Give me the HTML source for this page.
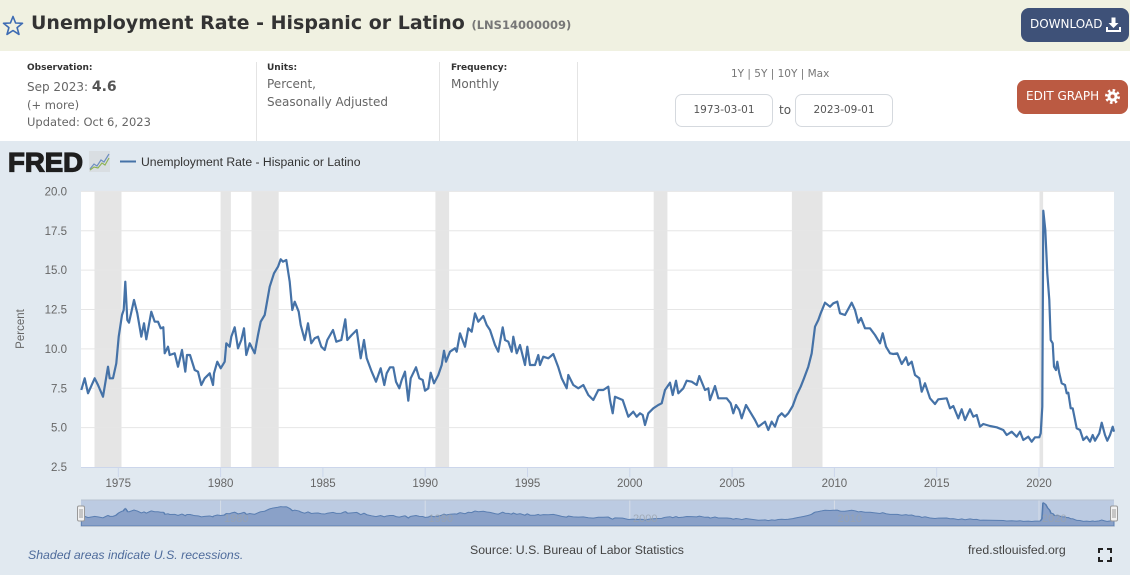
<!DOCTYPE html>
<html>
<head>
<meta charset="utf-8">
<style>
  html,body{margin:0;padding:0;}
  body{width:1130px;height:575px;position:relative;overflow:hidden;background:#ffffff;font-family:"DejaVu Sans","Liberation Sans",sans-serif;}
  .abs{position:absolute;white-space:nowrap;}
  #hdr{position:absolute;left:0;top:0;width:1130px;height:51px;background:#f0f1e1;}
  #title{left:31px;top:12px;font-size:19px;font-weight:bold;color:#333;}
  #title .sid{font-size:11.5px;color:#777;font-weight:bold;}
  .btn{position:absolute;color:#fff;font-size:12px;border-radius:8px;box-sizing:border-box;}
  #dl{left:1021px;top:8px;width:108px;height:34px;background:#3e5178;}
  #eg{left:1017px;top:80px;width:111px;height:34px;background:#bb5a42;}
  .lbl{font-size:9px;font-weight:bold;color:#333;}
  .val{font-size:12px;color:#666;}
  .sep{position:absolute;width:1px;background:#e4e4e4;top:62px;height:79px;}
  .inp{position:absolute;top:94px;height:33px;width:98px;border:1px solid #d5d9de;border-radius:7px;box-sizing:border-box;font-size:10.5px;color:#555;text-align:center;line-height:31px;background:#fff;}
  #chartbg{position:absolute;left:0;top:141px;width:1130px;height:434px;background:#e1e9f0;}
</style>
</head>
<body>
<div id="hdr"></div>
<svg class="abs" style="left:2px;top:15px" width="22" height="22" viewBox="0 0 22 22">
  <polygon points="11,1.5 13.6,8 20.5,8.3 15.1,12.6 17,19.4 11,15.5 5,19.4 6.9,12.6 1.5,8.3 8.4,8" fill="none" stroke="#3d6bb3" stroke-width="1.6" stroke-linejoin="round"/>
</svg>
<div id="title" class="abs">Unemployment Rate - Hispanic or Latino <span class="sid">(LNS14000009)</span></div>

<div id="dl" class="btn"><span class="abs" style="left:9px;top:9px">DOWNLOAD</span>
  <svg class="abs" style="left:85px;top:9px" width="15" height="15" viewBox="0 0 15 15">
    <rect x="5.5" y="0.5" width="4" height="6" fill="#fff"/>
    <polygon points="2.5,6 12.5,6 7.5,11" fill="#fff"/>
    <path d="M1 10 V14 H14 V10" fill="none" stroke="#fff" stroke-width="2"/>
  </svg>
</div>

<div class="abs lbl" style="left:27px;top:63px">Observation:</div>
<div class="abs val" style="left:27px;top:79px">Sep 2023: <b style="font-size:14px;color:#555">4.6</b></div>
<div class="abs val" style="left:27px;top:98px;font-size:11.5px">(+ more)</div>
<div class="abs val" style="left:27px;top:115px;font-size:11.5px">Updated: Oct 6, 2023</div>
<div class="sep" style="left:256px"></div>
<div class="abs lbl" style="left:267px;top:63px">Units:</div>
<div class="abs val" style="left:267px;top:77px">Percent,</div>
<div class="abs val" style="left:267px;top:95px">Seasonally Adjusted</div>
<div class="sep" style="left:439px"></div>
<div class="abs lbl" style="left:451px;top:63px">Frequency:</div>
<div class="abs val" style="left:451px;top:77px">Monthly</div>
<div class="sep" style="left:577px"></div>

<div class="abs" style="left:731px;top:68px;font-size:10.5px;color:#777">1Y | 5Y | 10Y | Max</div>
<div class="inp" style="left:675px">1973-03-01</div>
<div class="abs" style="left:779px;top:103px;font-size:12px;color:#555">to</div>
<div class="inp" style="left:795px">2023-09-01</div>

<div id="eg" class="btn"><span class="abs" style="left:9px;top:9px">EDIT GRAPH</span>
  <svg class="abs" style="left:88px;top:9px" width="15" height="15" viewBox="0 0 15 15">
    <circle cx="7.5" cy="7.5" r="5" fill="#fff"/>
    <circle cx="7.5" cy="7.5" r="6" fill="none" stroke="#fff" stroke-width="3" stroke-dasharray="2.4 2.3"/>
    <circle cx="7.5" cy="7.5" r="2" fill="#bb5a42"/>
  </svg>
</div>

<div id="chartbg"></div>

<svg class="abs" style="left:0;top:0" width="1130" height="575" viewBox="0 0 1130 575">
  <!-- FRED logo -->
  <text x="8" y="171.5" font-family="Liberation Sans, sans-serif" font-weight="bold" font-size="26.5" fill="#1e1e1e" stroke="#1e1e1e" stroke-width="1.2" textLength="75" lengthAdjust="spacingAndGlyphs">FRED</text>
  <rect x="89" y="151" width="21" height="21" fill="#d9dee2"/>
  <polyline points="90,169 94,164 97,166 101,160 104,162 109,154" fill="none" stroke="#6f8fbf" stroke-width="1.2"/>
  <polyline points="90,170 94,167 98,168 102,163 105,165 109,158" fill="none" stroke="#8fb356" stroke-width="1.2"/>
  <!-- legend -->
  <line x1="120" y1="161.5" x2="136" y2="161.5" stroke="#4572a7" stroke-width="2"/>
  <text x="141" y="166" font-family="Liberation Sans, sans-serif" font-size="12.2" fill="#333">Unemployment Rate - Hispanic or Latino</text>

  <!-- plot bg -->
  <rect x="81" y="191" width="1033" height="276" fill="#ffffff"/>
  <!-- recessions -->
  <g fill="#e5e5e5">
    <rect x="94.5" y="191" width="27" height="276"/>
    <rect x="220.6" y="191" width="10.3" height="276"/>
    <rect x="251.5" y="191" width="27.2" height="276"/>
    <rect x="435.4" y="191" width="13.7" height="276"/>
    <rect x="653.7" y="191" width="13.7" height="276"/>
    <rect x="791.9" y="191" width="30.6" height="276"/>
    <rect x="1039.5" y="191" width="3.6" height="276"/>
  </g>
  <!-- gridlines -->
  <g stroke="#e6e6e6" stroke-width="1">
    <line x1="81" x2="1114" y1="191.4" y2="191.4"/>
    <line x1="81" x2="1114" y1="230.75" y2="230.75"/>
    <line x1="81" x2="1114" y1="270.1" y2="270.1"/>
    <line x1="81" x2="1114" y1="309.5" y2="309.5"/>
    <line x1="81" x2="1114" y1="348.9" y2="348.9"/>
    <line x1="81" x2="1114" y1="388.25" y2="388.25"/>
    <line x1="81" x2="1114" y1="427.6" y2="427.6"/>
  </g>
  <line x1="81" x2="1114" y1="467.5" y2="467.5" stroke="#ccd6eb" stroke-width="1"/>
  <g stroke="#ccd6eb" stroke-width="1">
    <line x1="118.3" x2="118.3" y1="467" y2="477"/>
    <line x1="220.6" x2="220.6" y1="467" y2="477"/>
    <line x1="322.9" x2="322.9" y1="467" y2="477"/>
    <line x1="425.2" x2="425.2" y1="467" y2="477"/>
    <line x1="527.5" x2="527.5" y1="467" y2="477"/>
    <line x1="629.8" x2="629.8" y1="467" y2="477"/>
    <line x1="732.1" x2="732.1" y1="467" y2="477"/>
    <line x1="834.4" x2="834.4" y1="467" y2="477"/>
    <line x1="936.7" x2="936.7" y1="467" y2="477"/>
    <line x1="1039" x2="1039" y1="467" y2="477"/>
  </g>
  <!-- y labels -->
  <g font-family="Liberation Sans, sans-serif" font-size="11.5" fill="#666" text-anchor="end">
    <text x="67" y="195.4">20.0</text>
    <text x="67" y="234.8">17.5</text>
    <text x="67" y="274.1">15.0</text>
    <text x="67" y="313.5">12.5</text>
    <text x="67" y="352.9">10.0</text>
    <text x="67" y="392.3">7.5</text>
    <text x="67" y="431.6">5.0</text>
    <text x="67" y="471">2.5</text>
  </g>
  <text transform="translate(24,329) rotate(-90)" font-family="Liberation Sans, sans-serif" font-size="11.5" fill="#666" text-anchor="middle">Percent</text>
  <!-- x labels -->
  <g font-family="Liberation Sans, sans-serif" font-size="11.5" fill="#666" text-anchor="middle">
    <text x="118.3" y="487">1975</text>
    <text x="220.6" y="487">1980</text>
    <text x="322.9" y="487">1985</text>
    <text x="425.2" y="487">1990</text>
    <text x="527.5" y="487">1995</text>
    <text x="629.8" y="487">2000</text>
    <text x="732.1" y="487">2005</text>
    <text x="834.4" y="487">2010</text>
    <text x="936.7" y="487">2015</text>
    <text x="1039" y="487">2020</text>
  </g>

  <!-- series -->
  <polyline id="ser" fill="none" stroke="#4572a7" stroke-width="2.2" stroke-linejoin="round" points="81.3,390 84.7,378.3 88,393.3 94.7,378.3 98,385 103,396.7 108,366.7 109.7,378.3 113,378.3 116.3,363.3 118.7,336.7 122,315 123.7,310 125.3,281.7 127.3,320 129,322.7 134,300 137.3,313.3 141.3,336.7 144,323.3 146.3,339.3 151.3,311.7 154.7,321.7 158,321.7 160.7,328.3 163.3,327.3 164.7,353.3 168,346.7 169.7,355 174.7,353.3 178,366.7 182,350 185.3,371.7 187,355 190,355 194.7,370 198,371.7 201.3,385 204.7,378.3 209.7,373.3 213,385 214,373.3 217.3,361.7 220.7,368.3 224.7,361.7 226.3,343.3 229.7,346.7 231.3,336.7 234.7,327.3 238,348.3 241.3,340 244,328.3 246.3,355 249.7,343.3 254.7,353.3 258,335 260.7,321.7 264.7,315 269.7,286.7 274,273.3 278,266.7 280.7,259.3 283,261.7 286.3,260 289.7,281.7 292.3,310 294.7,301.7 298.7,311.7 300.7,325 304.7,340 308,323.3 311.3,343.3 314.7,338.3 318,336.7 321.3,346.7 324.7,350 327.3,340 333,330 336.3,341.7 341.3,340 345.3,319.3 347.3,340 351.7,335 356.7,330 360.7,358.3 364,340 366.7,358.3 371.7,371.7 376,381.7 380.7,368.3 384.3,385 386.7,373.3 390,367.3 393.3,367.3 396,381.7 399.3,388.3 401.7,380 405,371.7 408.3,400.7 410.7,378.3 416,367.3 419.3,378.3 422.7,380 425,390.7 428.3,388.3 430.7,372.7 434,383.3 438.3,375 441.7,365 444,350.7 446,361.7 450,351.7 455,348.3 456.7,351.7 460,333.3 465,346.7 468.3,328.3 471.7,331.7 475,313.3 478.3,321.7 483.3,316 486.7,325 490,330 495,345 498.3,351.7 502.7,327.3 505,340 508.3,341.7 511.7,351.7 513.3,336.7 516.7,353.3 520,345 525,365 527.3,346.7 530,365 535,365 538.3,355 540,365 543.3,356.7 548.3,358.3 553.3,354 558.3,367.3 561.7,378.3 566.7,388.3 568.3,375 573.3,385 578.3,388.3 583.3,385 588.3,395 593.3,400 598.3,390 603.3,390 608.3,386.7 610,400 612.7,413.3 615,396.7 622.7,400 628.3,416.7 633.3,411.7 636.7,416.7 640,413.3 642.7,415 645,425 648.3,413.3 653.3,408.3 658.3,405 661.7,403.3 665,390 670,382.7 672.7,395 676,380.7 678.3,393.3 683.3,388.3 686.7,380.7 691.7,381.7 696.7,385 699.3,376 705,390 708.3,388.3 710,400 715,386 718.3,398.3 721.7,398.3 726.7,398.3 730.7,403.3 733.3,413.3 736,405 739.3,410 741.7,418.3 746,405 750,411.7 755,420 758.3,426.7 765,421.7 768.3,430 771.7,421.7 775,426.7 778.3,416.7 781.7,413.3 785,416.7 788.3,413.3 792.7,406 796.7,395 800.7,386.7 804,378.3 808.3,366.7 811.7,353.3 815,326.7 818.3,320 820.7,313.3 825,302.7 830,306.7 833.3,303.3 837.3,301.7 840,313.3 845,315 851.7,302.7 855,310 858.3,322.7 861,318 865,328.3 870,328.3 875,335 880,343.3 882.7,333.3 886,346.7 890,353.3 893.3,354 897.3,353.3 901.7,364 906,357.3 908.3,365 911.7,361.7 915,375 919.3,378.3 921.7,391.7 925,383.3 930,398.3 935,404 938.3,399.3 946.7,398.3 950,408.3 953.3,406 958.3,418.3 961.7,409.3 965,420 970,409.3 973.3,416.7 976.7,415 980,426.7 983.3,424 990,426 996.7,427.3 1003.3,430 1006.7,435 1011.7,431.7 1016.7,436.7 1020,431.7 1023.3,440 1028.3,436.7 1031.7,441.7 1035,437.3 1039.3,437.3 1040.7,433.3 1042.3,406.7 1043.3,210.7 1045.3,230 1047.3,273.3 1049.3,300 1050.7,340 1052.7,343.3 1054,366.7 1056,370 1057.3,361.7 1059.3,373.3 1061.7,383.3 1065,385 1066.7,393.3 1068.3,392.7 1070.7,408.3 1072.7,408.3 1076.7,428.3 1080,430 1083.3,440 1086.7,436.7 1090,441.7 1092.7,435 1095,440.7 1097.3,436.7 1099.3,433.3 1101.7,422.7 1105,435 1107.3,440.7 1110,435 1112.7,426.7 1114,431.7"/>

  <!-- navigator -->
  <rect x="81" y="500" width="1033" height="26" fill="#bccbe2"/>
  <g stroke="#d6dde8" stroke-width="1">
    <line x1="220.6" x2="220.6" y1="500" y2="526"/>
    <line x1="425.2" x2="425.2" y1="500" y2="526"/>
    <line x1="629.8" x2="629.8" y1="500" y2="526"/>
    <line x1="834.4" x2="834.4" y1="500" y2="526"/>
    <line x1="1039" x2="1039" y1="500" y2="526"/>
  </g>
  <g transform="translate(0,485.6) scale(1,0.0813)">
    <use href="#ser" fill="#8ca2c9" stroke="none"/>
  </g>
  <g transform="translate(0,485.6) scale(1,0.0813)">
    <polygon id="navfill" fill="#8aa1c8" stroke="#5b7fb2" stroke-width="1" vector-effect="non-scaling-stroke" points=""/>
  </g>
  <g font-family="Liberation Sans, sans-serif" font-size="11" fill="#9aa3ad" fill-opacity="0.8">
    <text x="224" y="522">1980</text>
    <text x="428.5" y="522">1990</text>
    <text x="633" y="522">2000</text>
    <text x="837.5" y="522">2010</text>
    <text x="1042" y="522">2020</text>
  </g>
  <line x1="81" x2="1114" y1="500" y2="500" stroke="#b8c2d0" stroke-width="1"/>
  <line x1="81" x2="1114" y1="526.5" y2="526.5" stroke="#b8c2d0" stroke-width="1"/>
  <rect x="77.5" y="506" width="7" height="15" rx="1.5" fill="#f2f2f2" stroke="#999" stroke-width="1"/>
  <line x1="80" x2="80" y1="509" y2="518" stroke="#999"/>
  <line x1="82" x2="82" y1="509" y2="518" stroke="#999"/>
  <rect x="1110.5" y="506" width="7" height="15" rx="1.5" fill="#f2f2f2" stroke="#999" stroke-width="1"/>
  <line x1="1113" x2="1113" y1="509" y2="518" stroke="#999"/>
  <line x1="1115" x2="1115" y1="509" y2="518" stroke="#999"/>

  <!-- footer -->
  <text x="28" y="559" font-family="Liberation Sans, sans-serif" font-size="12.3" font-style="italic" fill="#4e6b9b">Shaded areas indicate U.S. recessions.</text>
  <text x="470" y="554" font-family="Liberation Sans, sans-serif" font-size="12.3" fill="#444">Source: U.S. Bureau of Labor Statistics</text>
  <text x="968" y="554" font-family="Liberation Sans, sans-serif" font-size="12.3" fill="#444">fred.stlouisfed.org</text>
  <g fill="none" stroke="#222" stroke-width="2">
    <path d="M1099 553 V549 H1103"/>
    <path d="M1107 549 H1111 V553"/>
    <path d="M1111 557 V561 H1107"/>
    <path d="M1103 561 H1099 V557"/>
  </g>
</svg>
<script>
(function(){
  var s=document.getElementById('ser');
  var p=s.getAttribute('points');
  document.getElementById('navfill').setAttribute('points', p+' 1114,497 81.3,497');
})();
</script>
</body>
</html>
